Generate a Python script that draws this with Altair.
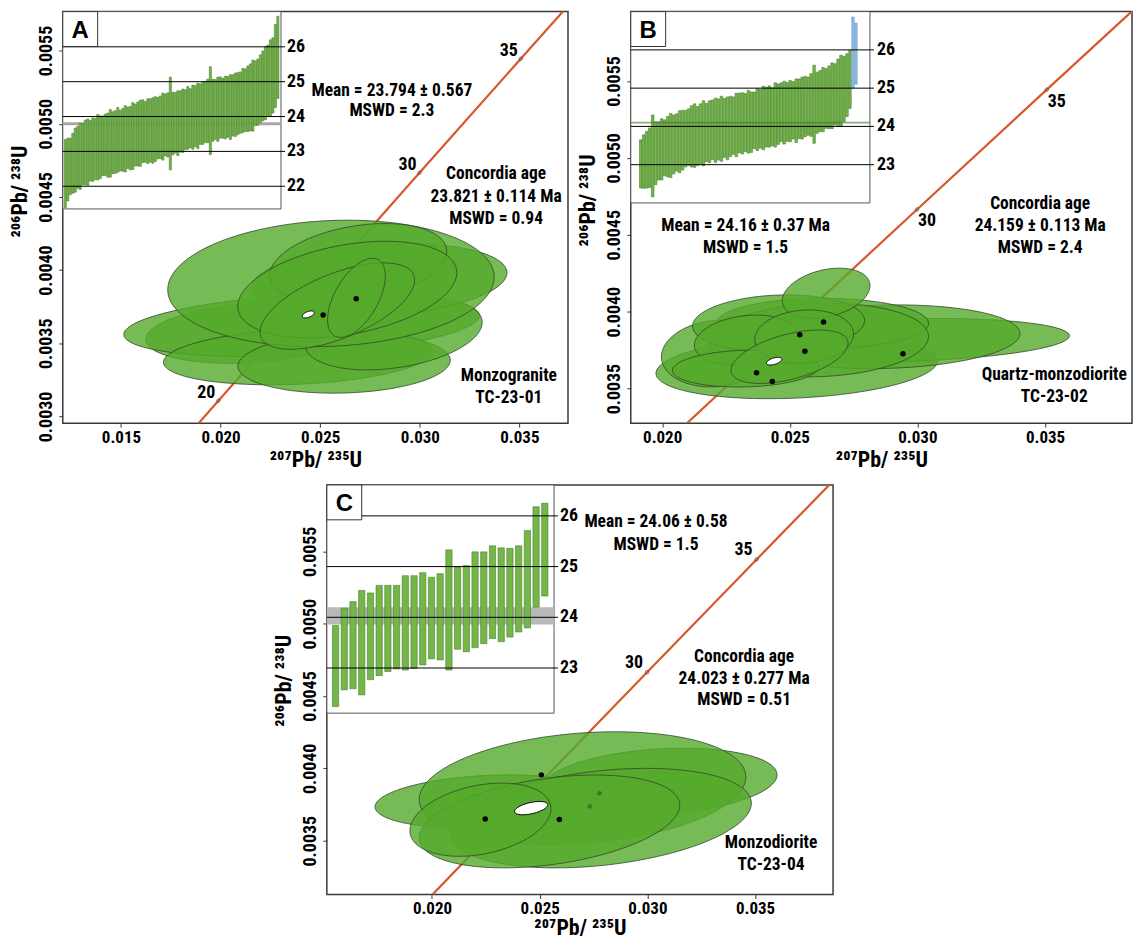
import altair as alt
import numpy as np
import pandas as pd

FONT = "Liberation Sans Narrow, Arial Narrow, Roboto Condensed, Liberation Sans, sans-serif"
FONT_W = "Liberation Sans, Arial, sans-serif"

# ---------------- concordia reference points (age Ma, 207Pb/235U, 206Pb/238U)
CONC_AGE = [10, 15, 20, 25, 30, 35, 40, 45]
CONC_R75 = [0.009897, 0.014882, 0.019892, 0.024927, 0.029986, 0.035071, 0.040180, 0.045315]
CONC_R68 = [0.0015525, 0.0023296, 0.0031073, 0.0038857, 0.0046646, 0.0054441, 0.0062243, 0.0070050]

# ---------------- Panel A (TC-23-01)
A_CX = [0.021578, 0.024067, 0.023889, 0.026200, 0.028689, 0.027978, 0.025542, 0.026911, 0.026360, 0.025860, 0.026820]
A_CY = [0.003568, 0.003625, 0.003409, 0.003364, 0.003568, 0.003932, 0.003909, 0.004045, 0.003867, 0.003754, 0.003810]
A_SX = [0.005333, 0.008924, 0.006756, 0.005330, 0.004444, 0.006400, 0.008196, 0.004444, 0.005500, 0.003880, 0.001450]
A_SY = [0.000205, 0.000216, 0.000193, 0.000205, 0.000250, 0.000250, 0.000432, 0.000273, 0.000330, 0.000295, 0.000270]
A_RHO = [0.2, 0.3, 0.2, 0.1, 0.3, 0.2, 0.1, 0.3, 0.35, 0.6, 0.55]
A_DOT_X = [0.025149, 0.026807]
A_DOT_Y = [0.003693, 0.003804]
A_AGE = [0.024404, 0.003697, 0.00030, 0.000024, 0.5]
A_LABEL_AGES = [20, 30, 35]
A_TEXT = ["Mean = 23.794 ± 0.567", "MSWD = 2.3", "Concordia age", "23.821 ± 0.114 Ma",
          "MSWD = 0.94", "Monzogranite", "TC-23-01"]
A_TEXT_X = [0.0286, 0.0286, 0.03383, 0.03383, 0.03383, 0.03447, 0.03447]
A_TEXT_Y = [0.005223, 0.005086, 0.004659, 0.004500, 0.004352, 0.003275, 0.003128]
A_MID = [22.36, 22.48, 22.57, 22.66, 22.75, 22.83, 22.86, 22.92, 22.97, 22.98,
         23.02, 23.05, 23.07, 23.12, 23.12, 23.16, 23.19, 23.18, 23.23, 23.25,
         23.27, 23.33, 23.31, 23.33, 23.36, 23.39, 23.38, 23.44, 23.47, 23.50,
         23.52, 23.58, 23.56, 23.58, 23.60, 23.60, 23.64, 23.67, 23.69, 23.71,
         23.76, 23.76, 23.80, 23.80, 23.82, 23.81, 23.86, 23.88, 23.91, 23.96,
         23.95, 23.98, 24.01, 24.02, 24.07, 24.10, 24.13, 24.16, 24.17, 24.18,
         24.20, 24.21, 24.26, 24.24, 24.26, 24.28, 24.27, 24.32, 24.34, 24.37,
         24.40, 24.46, 24.47, 24.51, 24.55, 24.60, 24.67, 24.70, 24.80, 24.88,
         24.96, 25.03, 25.10, 25.18, 25.45, 25.70]
A_ERR = [0.98, 0.90, 0.81, 0.86, 0.92, 0.89, 0.95, 0.88, 0.93, 0.95,
         0.87, 0.91, 0.88, 0.94, 0.90, 0.86, 0.88, 0.92, 0.97, 0.89,
         0.90, 0.93, 0.87, 0.90, 0.95, 0.88, 0.91, 0.96, 0.89, 0.92,
         0.95, 0.90, 0.87, 0.93, 0.91, 0.94, 0.93, 0.88, 0.90, 0.96,
         0.89, 0.92, 1.33, 0.90, 0.87, 0.93, 0.88, 0.91, 0.86, 0.90,
         0.85, 0.92, 0.88, 0.94, 0.87, 0.90, 0.88, 0.91, 1.26, 0.89,
         0.86, 0.92, 0.88, 0.86, 0.90, 0.87, 0.93, 0.88, 0.91, 0.89,
         0.88, 0.92, 0.90, 0.94, 0.96, 1.02, 0.93, 0.95, 0.97, 1.00,
         1.05, 1.02, 1.10, 1.08, 1.19, 1.18]
A_INSET_TICKS = [22, 23, 24, 25, 26]
A_MEAN = 23.794

# ---------------- Panel B (TC-23-02)
B_CX = [0.025277, 0.029435, 0.028718, 0.026280, 0.022122, 0.026137, 0.024560, 0.026424, 0.023269, 0.023269, 0.025563, 0.024990]
B_CY = [0.003641, 0.003815, 0.003837, 0.003924, 0.003728, 0.003815, 0.003924, 0.004120, 0.003815, 0.003630, 0.003837, 0.003707]
B_SX = [0.005520, 0.006524, 0.005305, 0.004158, 0.002151, 0.004300, 0.003370, 0.001720, 0.002007, 0.002868, 0.001936, 0.002294]
B_SY = [0.000207, 0.000141, 0.000207, 0.000163, 0.000217, 0.000239, 0.000185, 0.000163, 0.000163, 0.000120, 0.000174, 0.000174]
B_RHO = [0.2, 0.2, 0.1, 0.0, 0.1, 0.1, 0.1, 0.3, 0.2, 0.1, 0.1, 0.5]
B_DOT_X = [0.026324, 0.025391, 0.025592, 0.029435, 0.023699, 0.024316]
B_DOT_Y = [0.003933, 0.003850, 0.003742, 0.003727, 0.003603, 0.003546]
B_AGE = [0.024388, 0.003678, 0.00030, 0.000025, 0.5]
B_LABEL_AGES = [30, 35]
B_TEXT = ["Mean = 24.16 ± 0.37 Ma", "MSWD = 1.5", "Concordia age", "24.159 ± 0.113 Ma",
          "MSWD = 2.4", "Quartz-monzodiorite", "TC-23-02"]
B_TEXT_X = [0.023269, 0.023269, 0.034812, 0.034812, 0.034812, 0.035363, 0.035363]
B_TEXT_Y = [0.004559, 0.004413, 0.004700, 0.004559, 0.004413, 0.003591, 0.003446]
B_MID = [23.02, 23.08, 23.13, 23.18, 23.23, 23.30, 23.36, 23.40, 23.44, 23.47,
         23.50, 23.53, 23.58, 23.60, 23.64, 23.68, 23.72, 23.74, 23.76, 23.75,
         23.80, 23.82, 23.84, 23.86, 23.91, 23.90, 23.92, 23.94, 23.96, 23.95,
         24.00, 24.02, 24.04, 24.09, 24.08, 24.10, 24.12, 24.11, 24.16, 24.18,
         24.20, 24.22, 24.24, 24.26, 24.25, 24.30, 24.32, 24.37, 24.36, 24.38,
         24.40, 24.42, 24.41, 24.46, 24.48, 24.52, 24.53, 24.56, 24.58, 24.62,
         24.66, 24.70, 24.73, 24.76, 24.80, 24.84, 24.88, 24.93, 24.98, 25.08,
         25.23]
B_ERR = [0.63, 0.70, 0.74, 0.78, 1.07, 0.82, 0.76, 0.80, 0.73, 0.79,
         0.84, 0.77, 0.75, 0.81, 0.78, 0.74, 0.74, 0.80, 0.83, 0.77,
         0.79, 0.85, 0.76, 0.81, 0.78, 0.84, 0.80, 0.85, 0.77, 0.82,
         0.79, 0.75, 0.83, 0.78, 0.80, 0.76, 0.82, 0.79, 0.74, 0.81,
         0.77, 0.83, 0.78, 0.80, 0.76, 0.84, 0.79, 0.77, 0.82, 0.77,
         0.80, 0.75, 0.83, 0.78, 0.81, 0.79, 0.76, 0.82, 1.02, 0.80,
         0.80, 0.84, 0.78, 0.82, 0.86, 0.80, 0.88, 0.93, 0.85, 0.82,
         0.76]
B_REJ_MID = [25.93, 25.90]
B_REJ_ERR = [0.93, 0.80]
B_INSET_TICKS = [23, 24, 25, 26]
B_MEAN = 24.10

# ---------------- Panel C (TC-23-04)
C_CX = [0.022557, 0.030568, 0.026989, 0.027841, 0.025454, 0.022250]
C_CY = [0.003771, 0.003909, 0.003863, 0.003656, 0.003633, 0.003645]
C_SX = [0.005199, 0.005454, 0.007585, 0.006988, 0.006051, 0.003273]
C_SY = [0.000184, 0.000230, 0.000390, 0.000344, 0.000321, 0.000253]
C_RHO = [0.2, 0.2, 0.2, 0.3, 0.35, 0.3]
C_DOT_X = [0.025079, 0.022472, 0.025915]
C_DOT_Y = [0.003955, 0.003650, 0.003647]
C_FAINT_X = [0.027773, 0.027330]
C_FAINT_Y = [0.003828, 0.003737]
C_AGE = [0.024602, 0.003725, 0.00077, 0.000046, 0.5]
C_LABEL_AGES = [30, 35]
C_TEXT = ["Mean = 24.06 ± 0.58", "MSWD = 1.5", "Concordia age", "24.023 ± 0.277 Ma",
          "MSWD = 0.51", "Monzodiorite", "TC-23-04"]
C_TEXT_X = [0.030398, 0.030398, 0.034489, 0.034489, 0.034489, 0.035741, 0.035741]
C_TEXT_Y = [0.005700, 0.005544, 0.004770, 0.004616, 0.004471, 0.003484, 0.003335]
C_HI = [23.84, 24.18, 24.31, 24.53, 24.48, 24.63, 24.63, 24.63, 24.82, 24.82, 24.88, 24.79, 24.86,
        25.33, 24.99, 25.02, 25.29, 25.29, 25.41, 25.37, 25.36, 25.41, 25.71, 26.18, 26.25]
C_LO = [22.24, 22.57, 22.59, 22.47, 22.77, 22.85, 22.93, 22.98, 22.96, 22.99, 23.06, 23.18, 23.16,
        22.96, 23.37, 23.32, 23.40, 23.48, 23.58, 23.52, 23.61, 23.71, 23.79, 24.20, 24.42]
C_INSET_TICKS = [23, 24, 25, 26]
C_MEAN = 24.03

ORANGE = "#d9572b"
ELL_FILL = "#55aa2c"
ELL_EDGE = "#33482b"
BAR_FILL = "#74b748"
BAR_EDGE = "#4b7d30"


def ellipse_frame(cx, cy, sx, sy, rho, n=90):
    t = np.linspace(0, 2 * np.pi, n + 1)
    rows = []
    for i in range(len(cx)):
        xs = cx[i] + sx[i] * np.cos(t)
        ys = cy[i] + sy[i] * (rho[i] * np.cos(t) + np.sqrt(1 - rho[i] ** 2) * np.sin(t))
        for k in range(n + 1):
            rows.append({"id": i, "k": k, "x": float(xs[k]), "y": float(ys[k])})
    return pd.DataFrame(rows)


def panel(cfg):
    xs = alt.Scale(domain=cfg["xdom"], nice=False, zero=False)
    ys = alt.Scale(domain=cfg["ydom"], nice=False, zero=False)
    xax = alt.Axis(values=cfg["xticks"], format=".3f", title="²⁰⁷Pb/ ²³⁵U", tickSize=4,
                   labelPadding=2, labelFontSize=17, minExtent=20, maxExtent=20,
                   titlePadding=cfg["xtpad"])
    yax = alt.Axis(values=cfg["yticks"], format=".4f", title="²⁰⁶Pb/ ²³⁸U", labelAngle=270,
                   labelAlign="center", labelBaseline="bottom", tickSize=4, labelPadding=3,
                   minExtent=26, maxExtent=26, titlePadding=5, titleY=cfg["titley"])

    def X(f):
        return alt.X(f, type="quantitative", scale=xs, axis=xax)

    def Y(f):
        return alt.Y(f, type="quantitative", scale=ys, axis=yax)

    conc = pd.DataFrame({"age": CONC_AGE, "x": CONC_R75, "y": CONC_R68})
    l_conc = alt.Chart(conc).mark_line(color=ORANGE, strokeWidth=2.2, clip=True).encode(
        x=X("x"), y=Y("y"), order="age:Q")

    ell = ellipse_frame(cfg["cx"], cfg["cy"], cfg["sx"], cfg["sy"], cfg["rho"])
    l_ell = alt.Chart(ell).mark_line(fill=ELL_FILL, fillOpacity=0.8, stroke=ELL_EDGE,
                                     strokeWidth=1, strokeOpacity=0.8, clip=True).encode(
        x=X("x"), y=Y("y"), detail="id:N", order="k:Q")

    ag = cfg["age"]
    wdf = ellipse_frame([ag[0]], [ag[1]], [ag[2]], [ag[3]], [ag[4]], n=60)
    l_white = alt.Chart(wdf).mark_line(fill="white", stroke="black", strokeWidth=1).encode(
        x=X("x"), y=Y("y"), detail="id:N", order="k:Q")

    dots = pd.DataFrame({"x": cfg["dotx"], "y": cfg["doty"]})
    l_dots = alt.Chart(dots).mark_circle(size=30, color="black", opacity=1).encode(x=X("x"), y=Y("y"))

    marks = conc[conc["age"].isin(cfg["ages"])]
    l_mk = alt.Chart(marks).mark_point(shape="circle", size=12, filled=False, color="#333",
                                       strokeWidth=0.8).encode(x=X("x"), y=Y("y"))
    l_agelab = alt.Chart(marks).mark_text(font=FONT, fontSize=18, fontWeight="bold", color="black",
                                          **cfg["agelab"]).encode(x=X("x"), y=Y("y"), text="age:N")

    txt = pd.DataFrame({"t": cfg["text"], "x": cfg["tx"], "y": cfg["ty"]})
    l_txt = alt.Chart(txt).mark_text(font=FONT, fontSize=17.5, fontWeight="bold", color="black",
                                     align="center", baseline="middle").encode(
        x=X("x"), y=Y("y"), text="t:N")

    layers = [l_conc, l_ell, l_white, l_dots]
    if "faintx" in cfg:
        fdf = pd.DataFrame({"x": cfg["faintx"], "y": cfg["fainty"]})
        layers.append(alt.Chart(fdf).mark_circle(size=22, color="#2f6f1e", opacity=0.8).encode(
            x=X("x"), y=Y("y")))
    layers += [l_mk, l_agelab, l_txt]
    main = alt.layer(*layers)

    # ---------------- inset (weighted-mean age plot)
    W, H = cfg["iw"], cfg["ih"]
    ix = alt.Scale(domain=cfg["ixdom"], range=[0, W], nice=False, zero=False)
    iy = alt.Scale(domain=cfg["iydom"], range=[H, 0], nice=False, zero=False)
    one = pd.DataFrame({"a": [0]})
    frame = alt.Chart(one).mark_rect(fill="white", stroke="#555", strokeWidth=1).encode(
        x=alt.value(0), x2=alt.value(W), y=alt.value(0), y2=alt.value(H))

    bars = pd.DataFrame({"i": cfg["bar_i"], "lo": cfg["bar_lo"], "hi": cfg["bar_hi"]})
    hw = cfg["hw"]
    l_bars = alt.Chart(bars).transform_calculate(
        x0=f"datum.i - {hw}", x1=f"datum.i + {hw}").mark_rect(
        fill=BAR_FILL, stroke=BAR_EDGE, strokeWidth=0.6).encode(
        x=alt.X("x0:Q", scale=ix, axis=None), x2="x1:Q",
        y=alt.Y("lo:Q", scale=iy, axis=None), y2="hi:Q")

    band = pd.DataFrame({"lo": [cfg["mean"] - cfg["band"]], "hi": [cfg["mean"] + cfg["band"]]})
    l_band = alt.Chart(band).mark_rect(color=cfg["bandcolor"], opacity=cfg["bandop"]).encode(
        x=alt.value(0), x2=alt.value(W), y=alt.Y("lo:Q", scale=iy, axis=None), y2="hi:Q")

    tk = pd.DataFrame({"v": cfg["iticks"]})
    l_lines = alt.Chart(tk).mark_rule(color="black", strokeWidth=1).encode(
        x=alt.value(0), x2=alt.value(W + 4), y=alt.Y("v:Q", scale=iy, axis=None))
    l_lab = alt.Chart(tk).mark_text(font=FONT, fontSize=18, fontWeight="bold", color="black",
                                    align="left", baseline="middle").encode(
        x=alt.value(W + cfg["labdx"]), y=alt.Y("v:Q", scale=iy, axis=None), text="v:N")

    box = alt.Chart(one).mark_rect(fill="white", stroke="#333", strokeWidth=1).encode(
        x=alt.value(0), x2=alt.value(35), y=alt.value(0), y2=alt.value(35))
    letter = alt.Chart(one).mark_text(font=FONT_W, fontSize=24, fontWeight="bold", color="black",
                                      text=cfg["letter"], align="center", baseline="middle").encode(
        x=alt.value(17.5), y=alt.value(19))

    ilayers = [frame]
    if cfg["band_on_top"]:
        ilayers += [l_bars]
        if "rej_i" in cfg:
            rej = pd.DataFrame({"i": cfg["rej_i"], "lo": cfg["rej_lo"], "hi": cfg["rej_hi"]})
            ilayers.append(alt.Chart(rej).transform_calculate(
                x0=f"datum.i - {hw}", x1=f"datum.i + {hw}").mark_rect(
                fill="#8fbbe0", stroke="#6b9cc6", strokeWidth=0.6).encode(
                x=alt.X("x0:Q", scale=ix, axis=None), x2="x1:Q",
                y=alt.Y("lo:Q", scale=iy, axis=None), y2="hi:Q"))
        ilayers += [l_band]
    else:
        ilayers += [l_band, l_bars]
    ilayers += [l_lines, l_lab, box, letter]
    inset = alt.layer(*ilayers)

    return alt.layer(main, inset).resolve_scale(x="independent", y="independent").properties(
        width=cfg["w"], height=cfg["h"])


def lohi(mid, err):
    return [m - e for m, e in zip(mid, err)], [m + e for m, e in zip(mid, err)]


a_lo, a_hi = lohi(A_MID, A_ERR)
b_lo, b_hi = lohi(B_MID, B_ERR)
br_lo, br_hi = lohi(B_REJ_MID, B_REJ_ERR)

cfgA = dict(xdom=[0.01208, 0.03744], ydom=[0.002954, 0.005766], w=507, h=413,
            xticks=[0.015, 0.020, 0.025, 0.030, 0.035], xtpad=6,
            yticks=[0.0030, 0.0035, 0.0040, 0.0045, 0.0050, 0.0055], titley=180,
            cx=A_CX, cy=A_CY, sx=A_SX, sy=A_SY, rho=A_RHO, age=A_AGE,
            dotx=A_DOT_X, doty=A_DOT_Y, ages=A_LABEL_AGES,
            agelab=dict(align="right", baseline="middle", dx=-3, dy=-8),
            text=A_TEXT, tx=A_TEXT_X, ty=A_TEXT_Y,
            iw=219, ih=198, ixdom=[-1.0, 86.25], iydom=[21.35, 27.01], hw=0.42,
            bar_i=list(range(len(A_MID))), bar_lo=a_lo, bar_hi=a_hi,
            mean=A_MEAN, band=0.045, bandcolor="#a8a8a8", bandop=1, band_on_top=False,
            iticks=A_INSET_TICKS, labdx=6, letter="A")

cfgB = dict(xdom=[0.01877, 0.03841], ydom=[0.003275, 0.005951], w=503, h=413,
            xticks=[0.020, 0.025, 0.030, 0.035], xtpad=6,
            yticks=[0.0035, 0.0040, 0.0045, 0.0050, 0.0055], titley=189,
            cx=B_CX, cy=B_CY, sx=B_SX, sy=B_SY, rho=B_RHO, age=B_AGE,
            dotx=B_DOT_X, doty=B_DOT_Y, ages=B_LABEL_AGES,
            agelab=dict(align="left", baseline="top", dx=1, dy=3),
            text=B_TEXT, tx=B_TEXT_X, ty=B_TEXT_Y,
            iw=240, ih=192, ixdom=[-3.33, 76.67], iydom=[22.0, 27.0], hw=0.42,
            bar_i=list(range(len(B_MID))), bar_lo=b_lo, bar_hi=b_hi,
            rej_i=[len(B_MID), len(B_MID) + 1], rej_lo=br_lo, rej_hi=br_hi,
            mean=B_MEAN, band=0.025, bandcolor="#3f7a28", bandop=0.6, band_on_top=True,
            iticks=B_INSET_TICKS, labdx=7, letter="B")

cfgC = dict(xdom=[0.01512, 0.03862], ydom=[0.003128, 0.005959], w=508, h=411,
            xticks=[0.020, 0.025, 0.030, 0.035], xtpad=3,
            yticks=[0.0035, 0.0040, 0.0045, 0.0050, 0.0055], titley=196,
            cx=C_CX, cy=C_CY, sx=C_SX, sy=C_SY, rho=C_RHO, age=C_AGE,
            dotx=C_DOT_X, doty=C_DOT_Y, faintx=C_FAINT_X, fainty=C_FAINT_Y, ages=C_LABEL_AGES,
            agelab=dict(align="right", baseline="middle", dx=-4, dy=-9),
            text=C_TEXT, tx=C_TEXT_X, ty=C_TEXT_Y,
            iw=228, ih=229, ixdom=[0.0, 26.06], iydom=[22.11, 26.61], hw=0.36,
            bar_i=list(range(1, len(C_HI) + 1)), bar_lo=C_LO, bar_hi=C_HI,
            mean=C_MEAN, band=0.17, bandcolor="#b9b9b9", bandop=1, band_on_top=False,
            iticks=C_INSET_TICKS, labdx=6, letter="C")

pA = panel(cfgA)
pB = panel(cfgB)
pC = panel(cfgC)

spacer = alt.Chart(pd.DataFrame({"a": [0]})).mark_point(opacity=0).encode(
    x=alt.value(0), y=alt.value(0)).properties(
    width=202, height=411, view=alt.ViewBackground(stroke="transparent"))

row1 = alt.hconcat(pA, pB, spacing=7)
row2 = alt.hconcat(spacer, pC, spacing=7)

chart = alt.vconcat(row1, row2, spacing=10).properties(
    padding={"left": 8, "top": 8, "right": 0, "bottom": 0},
    background="white",
).configure_view(stroke="#3a3a3a", strokeWidth=1.5).configure_axis(
    labelFont=FONT, labelFontSize=18, labelFontWeight="bold", labelColor="black",
    titleFont=FONT, titleFontSize=22, titleFontWeight="bold", titleColor="black",
    tickColor="#333", domain=False, grid=False, labelFlush=False,
)

chart.save("out.html", embed_options={"renderer": "svg", "actions": False})
